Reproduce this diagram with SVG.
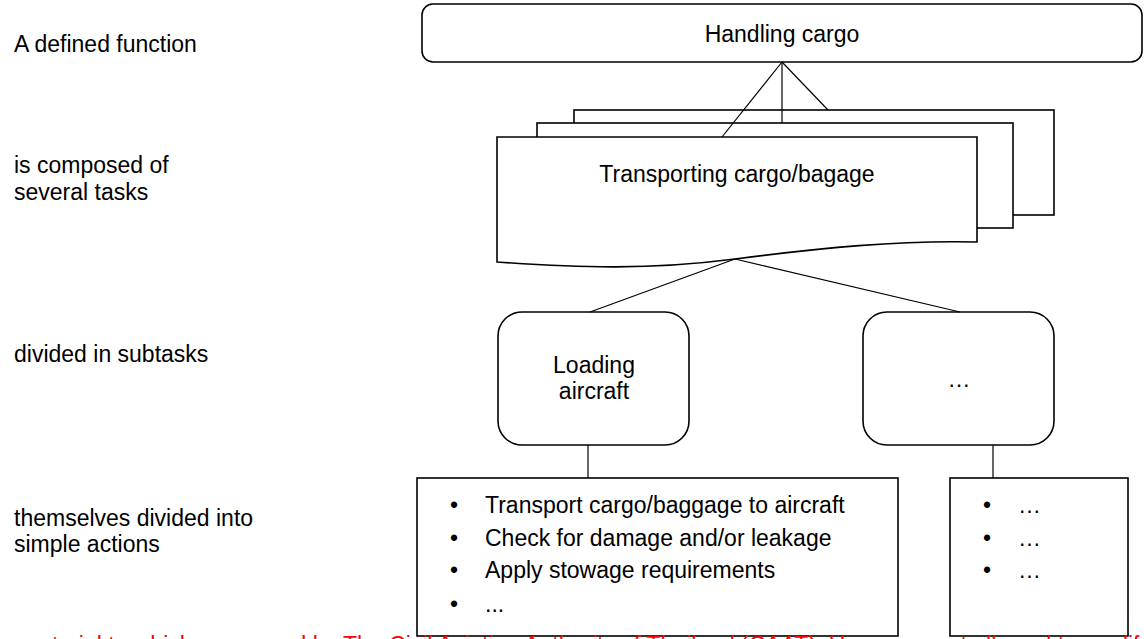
<svg xmlns="http://www.w3.org/2000/svg" width="1144" height="639" viewBox="0 0 1144 639">
<style>
text{font-family:"Liberation Sans",Arial,sans-serif;font-size:23px;fill:#000}
.c{text-anchor:middle}
.box{fill:#fff;stroke:#000;stroke-width:1.6}
.ln{fill:none;stroke:#000;stroke-width:1.2}
.red{fill:#f00}
</style>
<rect width="1144" height="639" fill="#fff"/>
<g id="labels">
<text x="14" y="52">A defined function</text>
<text x="14" y="173">is composed of</text>
<text x="14" y="200">several tasks</text>
<text x="14" y="362">divided in subtasks</text>
<text x="14" y="526">themselves divided into</text>
<text x="14" y="552">simple actions</text>
</g>
<g id="function">
<rect class="box" x="422" y="4" width="720" height="58" rx="11"/>
<text class="c" x="782" y="42">Handling cargo</text>
</g>
<g id="tasks">
<rect class="box" x="574" y="110" width="480" height="105"/>
<rect class="box" x="537" y="123" width="476" height="105"/>
<path class="box" d="M497,137 H977 V242 C900,240 820,248 735,259 C650,270 580,268 497,262 Z"/>
<text class="c" x="737" y="182">Transporting cargo/bagage</text>
</g>
<g id="subtask-loading">
<rect class="box" x="498" y="312" width="191" height="133" rx="24"/>
<text class="c" x="594" y="373">Loading</text>
<text class="c" x="594" y="399">aircraft</text>
</g>
<g id="subtask-other">
<rect class="box" x="863" y="312" width="191" height="133" rx="24"/>
<text class="c" x="959" y="387">…</text>
</g>
<g id="actions-loading">
<rect class="box" x="417" y="478" width="481" height="158"/>
<text x="450" y="513">•</text><text x="485" y="513">Transport cargo/baggage to aircraft</text>
<text x="450" y="546">•</text><text x="485" y="546">Check for damage and/or leakage</text>
<text x="450" y="578">•</text><text x="485" y="578">Apply stowage requirements</text>
<text x="450" y="612">•</text><text x="485" y="612">...</text>
</g>
<g id="actions-other">
<rect class="box" x="950" y="478" width="178" height="158"/>
<text x="983" y="513">•</text><text x="1018" y="513">…</text>
<text x="983" y="546">•</text><text x="1018" y="546">…</text>
<text x="983" y="578">•</text><text x="1018" y="578">…</text>
</g>
<g id="connectors">
<line class="ln" x1="782" y1="62" x2="722" y2="137"/>
<line class="ln" x1="782" y1="62" x2="782" y2="123"/>
<line class="ln" x1="782" y1="62" x2="828" y2="110"/>
<line class="ln" x1="735" y1="259" x2="590" y2="312"/>
<line class="ln" x1="735" y1="259" x2="960" y2="312"/>
<line class="ln" x1="588" y1="445" x2="588" y2="478"/>
<line class="ln" x1="993" y1="445" x2="993" y2="478"/>
</g>
<text class="red" x="20" y="653">material to which are owned by The Civil Aviation Authority of Thailand (CAAT). Users are not allowed to modify or distribute</text>
</svg>
